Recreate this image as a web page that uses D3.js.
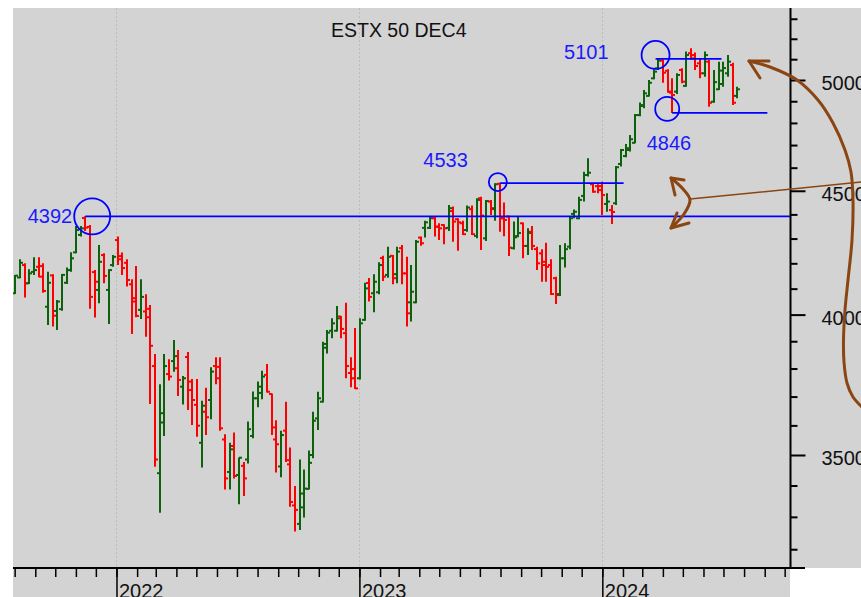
<!DOCTYPE html>
<html>
<head>
<meta charset="utf-8">
<script src="https://cdn.jsdelivr.net/npm/d3@7"></script>
<style>
    body { margin: 0; background: #fff; }
    svg { display: block; font-family: "Liberation Sans", Arial, sans-serif; }
</style>
</head>
<body>
<svg id="chart" width="861" height="597"></svg>
<script>
// weekly bars, first week starts on this monday
var firstWeek = '2021-08-02';

var openVals = [
    4082, 4144, 4193, 4121, 4166, 4186, 4189, 4030, 4152, 4014, 4021, 4123, 4173, 4244, 4315, 4385,
    4348, 4165, 4095, 4233, 4095, 4193, 4294, 4229, 4202, 4117, 4063, 4018, 4012, 4022, 3809, 3440,
    3642, 3780, 3827, 3801, 3735, 3842, 3723, 3671, 3541, 3647, 3688, 3809, 3806, 3552, 3444, 3530,
    3434, 3464, 3485, 3564, 3694, 3713, 3777, 3709, 3552, 3462, 3582, 3469, 3336, 3278, 3330, 3389,
    3500, 3624, 3682, 3890, 3939, 3939, 3993, 3930, 3784, 3798, 3765, 3980, 4122, 4082, 4086, 4221,
    4154, 4230, 4157, 4261, 4160, 4047, 4047, 4304, 4344, 4344, 4384, 4349, 4356, 4344, 4414, 4380,
    4363, 4335, 4422, 4311, 4468, 4301, 4454, 4426, 4530, 4384, 4391, 4261, 4310, 4363, 4270, 4328,
    4257, 4240, 4206, 4193, 4141, 4079, 4220, 4267, 4402, 4384, 4478, 4568, 4528, 4520, 4520, 4444,
    4418, 4447, 4616, 4651, 4678, 4710, 4836, 4882, 4925, 5008, 5056, 5093, 5044, 4940, 4945, 5048,
    4972, 5129, 5120, 5080, 5032, 5088, 4898, 4956, 4981, 5032, 5072, 4925
];
var highVals = [
    4154, 4216, 4200, 4176, 4224, 4224, 4200, 4166, 4157, 4056, 4158, 4183, 4244, 4352, 4352, 4392,
    4356, 4173, 4274, 4240, 4176, 4233, 4308, 4243, 4216, 4137, 4189, 4137, 4078, 4037, 3853, 3744,
    3853, 3834, 3905, 3868, 3773, 3860, 3762, 3762, 3685, 3731, 3805, 3841, 3841, 3570, 3541, 3576,
    3492, 3477, 3613, 3718, 3753, 3792, 3816, 3711, 3618, 3582, 3682, 3525, 3398, 3485, 3452, 3515,
    3647, 3717, 3898, 3942, 3986, 4033, 3995, 4045, 3841, 3949, 3986, 4123, 4142, 4157, 4204, 4230,
    4267, 4233, 4267, 4274, 4226, 4193, 4294, 4308, 4373, 4390, 4390, 4363, 4359, 4440, 4433, 4384,
    4373, 4437, 4437, 4468, 4475, 4461, 4461, 4532, 4533, 4450, 4394, 4370, 4390, 4366, 4342, 4352,
    4267, 4257, 4283, 4216, 4147, 4274, 4281, 4390, 4421, 4475, 4582, 4641, 4532, 4528, 4539, 4489,
    4440, 4607, 4682, 4705, 4745, 4841, 4894, 4953, 5000, 5051, 5101, 5099, 5051, 5008, 5032, 5056,
    5137, 5153, 5132, 5104, 5137, 5096, 5048, 5088, 5087, 5120, 5083, 4968
];
var lowVals = [
    4079, 4141, 4066, 4118, 4154, 4145, 4084, 3961, 3955, 3942, 4015, 4118, 4166, 4240, 4308, 4331,
    4022, 3989, 4043, 4121, 3964, 4186, 4193, 4154, 4108, 3927, 3990, 3983, 3917, 3674, 3461, 3313,
    3564, 3757, 3788, 3702, 3672, 3653, 3601, 3561, 3459, 3567, 3621, 3744, 3582, 3387, 3387, 3423,
    3340, 3366, 3472, 3556, 3663, 3691, 3714, 3567, 3442, 3427, 3477, 3332, 3254, 3259, 3298, 3387,
    3489, 3584, 3679, 3855, 3911, 3936, 3911, 3765, 3733, 3727, 3761, 3977, 4050, 4009, 4078, 4130,
    4143, 4117, 4121, 4117, 3955, 3974, 4043, 4271, 4304, 4339, 4308, 4294, 4277, 4331, 4287, 4250,
    4315, 4328, 4315, 4301, 4254, 4290, 4398, 4373, 4328, 4310, 4229, 4256, 4305, 4220, 4233, 4254,
    4173, 4127, 4127, 4075, 4041, 4071, 4183, 4257, 4384, 4380, 4454, 4561, 4492, 4489, 4398, 4411,
    4360, 4440, 4605, 4646, 4671, 4708, 4831, 4867, 4922, 5003, 5048, 4987, 4940, 4846, 4934, 4984,
    4968, 5096, 5048, 5008, 5016, 4874, 4893, 4953, 4968, 5016, 4882, 4914
];
var closeVals = [
    4151, 4202, 4121, 4160, 4173, 4147, 4091, 4123, 3996, 4050, 4154, 4173, 4220, 4335, 4342, 4345,
    4068, 4127, 4206, 4150, 4173, 4226, 4216, 4181, 4134, 4050, 3995, 4068, 3990, 3883, 3485, 3610,
    3809, 3771, 3845, 3759, 3765, 3753, 3688, 3599, 3668, 3628, 3789, 3765, 3590, 3423, 3519, 3431,
    3491, 3423, 3587, 3694, 3735, 3771, 3717, 3593, 3536, 3567, 3483, 3347, 3322, 3374, 3390, 3474,
    3616, 3694, 3876, 3932, 3967, 3986, 3946, 3809, 3765, 3729, 3967, 4101, 4068, 4127, 4193, 4147,
    4226, 4141, 4247, 4160, 4005, 4088, 4287, 4281, 4367, 4384, 4349, 4342, 4342, 4426, 4370, 4367,
    4318, 4429, 4318, 4461, 4395, 4456, 4422, 4528, 4384, 4377, 4263, 4305, 4323, 4270, 4323, 4270,
    4200, 4193, 4186, 4079, 4075, 4220, 4257, 4384, 4411, 4461, 4568, 4578, 4496, 4503, 4482, 4454,
    4410, 4602, 4678, 4686, 4726, 4836, 4878, 4937, 4987, 5040, 5093, 5035, 4945, 4929, 5024, 4992,
    5120, 5104, 5067, 5032, 5120, 4893, 4990, 5045, 5057, 5088, 4893, 4956
];

var title = 'ESTX 50 DEC4';
var priceTicks = [3500, 4000, 4500, 5000];
var priceMinor = [3200, 3300, 3400, 3600, 3700, 3800, 3900, 4100, 4200, 4300, 4400,
                  4600, 4700, 4800, 4900, 5100, 5200, 5300];

// marked levels: value, bar date where the line starts, date where it ends
var levelValues = [4392, 4533, 5101, 4846];
var levelFrom = ['2021-11-15', '2023-07-31', '2024-03-21', '2024-04-15'];
var levelTo = ['2024-10-09', '2024-02-02', '2024-06-28', '2024-09-05'];

var parse = d3.timeParse('%Y-%m-%d');
var green = '#0b620b', red = '#ff0000', blue = '#0000ff', brown = '#8b4513';

var svg = d3.select('#chart');
var plot = {left: 13, right: 790, top: 8, bottom: 568};

var x = d3.scaleTime()
    .domain([new Date(2021, 6, 29, 12), new Date(2024, 9, 9)])
    .range([plot.left, plot.right]);
var y = d3.scaleLog().domain([3500, 5000]).range([455, 80]);

// backgrounds
svg.append('rect').attr('x', plot.left).attr('y', plot.top)
    .attr('width', 861 - plot.left).attr('height', plot.bottom - plot.top).attr('fill', '#d3d3d3');
svg.append('rect').attr('x', plot.left).attr('y', plot.bottom)
    .attr('width', plot.right - plot.left).attr('height', 597 - plot.bottom).attr('fill', '#d3d3d3');

svg.append('clipPath').attr('id', 'clip').append('rect')
    .attr('x', plot.left).attr('y', plot.top)
    .attr('width', plot.right - plot.left).attr('height', plot.bottom - plot.top);

// year grid
var years = x.ticks(d3.timeYear.every(1));
svg.append('g').selectAll('line').data(years).enter().append('line')
    .attr('x1', function(d) { return Math.round(x(d)) + 0.5; })
    .attr('x2', function(d) { return Math.round(x(d)) + 0.5; })
    .attr('y1', plot.top).attr('y2', plot.bottom)
    .attr('stroke', '#bcbcbc').attr('stroke-dasharray', '2,2');

// bars
var start = parse(firstWeek);
var bars = openVals.map(function(o, i) {
    return {date: d3.timeMonday.offset(start, i), o: o, h: highVals[i], l: lowVals[i], c: closeVals[i]};
});

var barG = svg.append('g').attr('clip-path', 'url(#clip)');
var bar = barG.selectAll('g').data(bars).enter().append('g')
    .attr('stroke', function(d) { return d.c >= d.o ? green : red; })
    .attr('stroke-width', 2);

function bx(d) { return Math.round(x(d.date)); }

bar.append('line')
    .attr('x1', bx).attr('x2', bx)
    .attr('y1', function(d) { return y(d.h); })
    .attr('y2', function(d) { return y(d.l); });
bar.append('line')
    .attr('x1', function(d) { return bx(d) - 3; }).attr('x2', bx)
    .attr('y1', function(d) { return y(d.o); }).attr('y2', function(d) { return y(d.o); });
bar.append('line')
    .attr('x1', bx).attr('x2', function(d) { return bx(d) + 3; })
    .attr('y1', function(d) { return y(d.c); }).attr('y2', function(d) { return y(d.c); });

// levels
var marks = [
    {cdx: 7, cdy: 0, r: 18, tdx: -20, tdy: 7, anchor: 'end'},
    {cdx: -2, cdy: -1, r: 9, tdx: -30, tdy: -15, anchor: 'end'},
    {cdx: 0, cdy: -4, r: 14, tdx: -47, tdy: 4, anchor: 'end'},
    {cdx: -5, cdy: -4, r: 12, tdx: 24, tdy: 41, anchor: 'end'}
];

var lvl = svg.append('g');
levelValues.forEach(function(v, i) {
    var x0 = x(parse(levelFrom[i])), x1 = x(parse(levelTo[i])), yy = y(v);
    var m = marks[i];
    var cx = x0 + m.cdx, cy = yy + m.cdy;
    lvl.append('line').attr('x1', x0).attr('x2', Math.min(x1, plot.right))
        .attr('y1', yy).attr('y2', yy)
        .attr('stroke', blue).attr('stroke-width', 1.8);
    lvl.append('circle').attr('cx', cx).attr('cy', cy).attr('r', m.r)
        .attr('fill', 'none').attr('stroke', blue).attr('stroke-width', 1.8);
    lvl.append('text').attr('x', cx + m.tdx).attr('y', cy + m.tdy)
        .attr('text-anchor', m.anchor)
        .attr('fill', '#1a1aff').attr('font-size', 20)
        .text(String(v));
});

// right price axis
var axisX = plot.right + 0.5;
var yMajor = svg.append('g').attr('transform', 'translate(' + axisX + ',0)')
    .call(d3.axisRight(y).tickValues(priceTicks).tickSize(15).tickPadding(16)
        .tickFormat(d3.format('d')));
var yMinor = svg.append('g').attr('transform', 'translate(' + axisX + ',0)')
    .call(d3.axisRight(y).tickValues(priceMinor).tickSize(7).tickFormat(''));
[yMajor, yMinor].forEach(function(g) {
    g.select('.domain').remove();
    g.selectAll('line').attr('stroke', '#000').attr('stroke-width', 2);
});
yMajor.selectAll('text').attr('font-size', 20).attr('fill', '#111')
    .attr('font-family', '"Liberation Sans", Arial, sans-serif').attr('dy', '0.48em');

svg.append('line').attr('x1', axisX).attr('x2', axisX)
    .attr('y1', plot.top).attr('y2', plot.bottom)
    .attr('stroke', '#000').attr('stroke-width', 2);

// bottom time axis
var xMinor = svg.append('g').attr('transform', 'translate(0,' + (plot.bottom + 1) + ')')
    .call(d3.axisBottom(x).ticks(d3.timeMonth.every(1)).tickSize(8).tickFormat(''));
var xMajor = svg.append('g').attr('transform', 'translate(0,' + (plot.bottom + 1) + ')')
    .call(d3.axisBottom(x).ticks(d3.timeYear.every(1)).tickSize(29)
        .tickFormat(d3.timeFormat('%Y')));
[xMinor, xMajor].forEach(function(g) {
    g.select('.domain').remove();
    g.selectAll('line').attr('stroke', '#000').attr('stroke-width', 1.5);
});
xMajor.selectAll('text')
    .attr('text-anchor', 'start').attr('x', 2).attr('y', 29).attr('dy', 0)
    .attr('font-size', 20).attr('fill', '#111')
    .attr('font-family', '"Liberation Sans", Arial, sans-serif');

svg.append('line').attr('x1', plot.left).attr('x2', plot.right + 15)
    .attr('y1', plot.bottom).attr('y2', plot.bottom)
    .attr('stroke', '#000').attr('stroke-width', 2);

// title
svg.append('text').attr('x', 331).attr('y', 37)
    .attr('font-size', 19.5).attr('fill', '#111')
    .text(title);

// hand drawn notes
var sketch = svg.append('g').attr('fill', 'none').attr('stroke', brown)
    .attr('stroke-linecap', 'round').attr('stroke-linejoin', 'round');
var curve = d3.line().curve(d3.curveCatmullRom);

var bigArrow = [[749, 61], [770, 67], [797, 80], [818, 100], [833, 123], [845, 150], [851, 172],
    [853, 200], [852, 240], [848, 280], [845, 310], [843.5, 340], [844, 362], [847, 383],
    [853, 397], [862, 407]];
sketch.append('path').attr('d', curve(bigArrow)).attr('stroke-width', 3);
sketch.append('path').attr('d', d3.line()([[769, 61], [749, 61], [760, 78]])).attr('stroke-width', 3);

sketch.append('path').attr('d', d3.line()([[690, 199], [862, 182]])).attr('stroke-width', 1.5);

var twoWay = [[671, 178], [683, 189], [690, 200], [684, 214], [671, 228]];
sketch.append('path').attr('d', curve(twoWay)).attr('stroke-width', 3);
sketch.append('path').attr('d', d3.line()([[684, 180], [671, 178], [675, 195]])).attr('stroke-width', 3);
sketch.append('path').attr('d', d3.line()([[677, 213], [671, 228], [689, 223]])).attr('stroke-width', 3);
</script>
</body>
</html>
